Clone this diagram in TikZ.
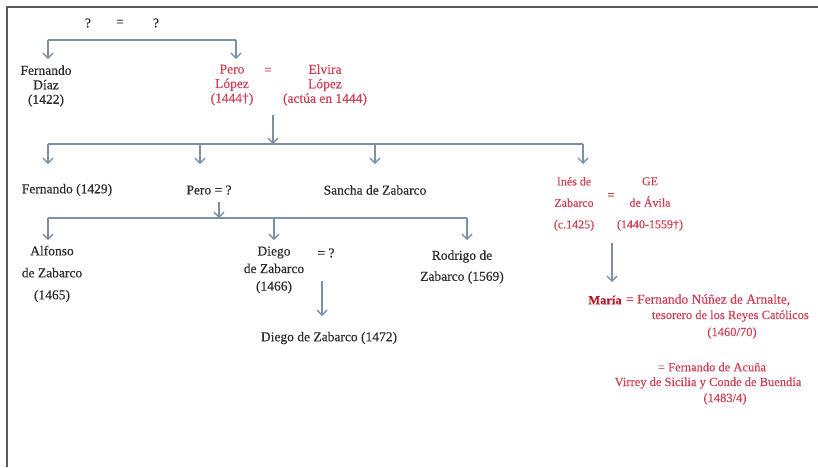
\documentclass[tikz,border=0pt]{standalone}
\usepackage{fontspec}
\setmainfont{Liberation Serif}[FakeBold=0.5]
\usetikzlibrary{arrows.meta}
\definecolor{conn}{RGB}{125,145,165}
\definecolor{redt}{RGB}{205,65,85}
\definecolor{redb}{RGB}{180,25,45}
\definecolor{blk}{RGB}{45,45,45}
\definecolor{frm}{RGB}{90,90,90}
\newcommand\fsz[2]{\fontsize{#1}{#2}\selectfont}
\begin{document}
\begin{tikzpicture}[x=1pt,y=-1pt,
  txt/.style={inner sep=0pt, align=center, text=blk, font=\fsz{13.5pt}{15pt}},
  rtxt/.style={txt, text=redt},
  stxt/.style={rtxt, font=\fsz{12.5pt}{15pt}},
  cline/.style={draw=conn, line width=1.3pt},
  arr/.style={cline, -{Straight Barb[length=5pt,width=10pt]}},
]
\useasboundingbox (0,0) rectangle (818,467);
\draw[frm, line width=1.3pt] (7,467) -- (7,7) -- (818,7);

% generation 1
\node[txt] (q1) at (88,23) {?};
\node[txt] (eqa) at (120,23) {=};
\node[txt] (q2) at (156,23) {?};
\coordinate (tb1) at (48,40);
\coordinate (tb2) at (236,40);
\coordinate (t1) at (0,59);
\draw[cline] (tb1) -- (tb2);
\draw[arr] (tb1) -- (tb1 |- t1);
\draw[arr] (tb2) -- (tb2 |- t1);

\node[txt, font=\fsz{13.5pt}{14.5pt}] (ferd) at (46,86) {Fernando\\Díaz\\(1422)};
\node[rtxt, font=\fsz{13.5pt}{14.5pt}] (pero) at (232,85) {Pero\\López\\(1444†)};
\node[rtxt] (eqpe) at (268,71) {=};
\node[rtxt, font=\fsz{13.5pt}{14.5pt}] (elvira) at (325,85) {Elvira\\López\\(actúa en 1444)};

% generation 2
\coordinate (a0) at (273,115);
\coordinate (a1) at (273,144);
\draw[arr] (a0) -- (a1);
\coordinate (h1l) at (48,144);
\coordinate (h1b) at (200,144);
\coordinate (h1c) at (375,144);
\coordinate (h1r) at (583,144);
\coordinate (t2) at (0,164);
\draw[cline] (h1l) -- (h1r);
\draw[arr] (h1l) -- (h1l |- t2);
\draw[arr] (h1b) -- (h1b |- t2);
\draw[arr] (h1c) -- (h1c |- t2);
\draw[arr] (h1r) -- (h1r |- t2);

\node[txt] (fer2) at (67,190) {Fernando (1429)};
\node[txt] (pero2) at (209,190) {Pero = ?};
\node[txt] (sancha) at (375,190) {Sancha de Zabarco};
\node[stxt, font=\fsz{12pt}{21.5pt}] (ines) at (574,204) {Inés de\\Zabarco\\(c.1425)};
\node[stxt] (eqig) at (611,196) {=};
\node[stxt, font=\fsz{12pt}{21.5pt}] (ge) at (650,204) {GE\\de Ávila\\(1440-1559†)};

% generation 3 (children of Pero)
\coordinate (p2a) at (219,202);
\coordinate (h2l) at (48,218);
\coordinate (h2m) at (274,218);
\coordinate (h2r) at (467,218);
\coordinate (t3) at (0,240);
\draw[arr] (p2a) -- (p2a |- h2l);
\draw[cline] (h2l) -- (h2r);
\draw[arr] (h2l) -- (h2l |- t3);
\draw[arr] (h2m) -- (h2m |- t3);
\draw[arr] (h2r) -- (h2r |- t3);

\node[txt, font=\fsz{13.5pt}{22pt}] (alfonso) at (52,274) {Alfonso\\de Zabarco\\(1465)};
\node[txt, font=\fsz{13.5pt}{17.5pt}] (diego) at (274,270) {Diego\\de Zabarco\\(1466)};
\node[txt] (eqd) at (326,253) {= ?};
\node[txt, font=\fsz{13.5pt}{21pt}] (rodrigo) at (462,267) {Rodrigo de\\Zabarco (1569)};

\coordinate (d0) at (322,281);
\coordinate (d1) at (322,316);
\draw[arr] (d0) -- (d1);
\node[txt] (diego2) at (329,338) {Diego de Zabarco (1472)};

% María
\coordinate (m0) at (612,243);
\coordinate (m1) at (612,282);
\draw[arr] (m0) -- (m1);
\node[txt, text=redb, font=\fsz{12.5pt}{15pt}\bfseries] (maria) at (605,300) {María};
\node[stxt, anchor=west, font=\fsz{13.5pt}{15pt}] (nun1) at (626,300) {= Fernando Núñez de Arnalte,};
\node[stxt, anchor=east] (nun2) at (809,316) {tesorero de los Reyes Católicos};
\node[stxt] (nun3) at (732,333) {(1460/70)};
\node[stxt] (acu1) at (712,367) {= Fernando de Acuña};
\node[stxt] (acu2) at (708,383) {Virrey de Sicilia y Conde de Buendía};
\node[stxt] (acu3) at (725,399) {(1483/4)};
\end{tikzpicture}
\end{document}
